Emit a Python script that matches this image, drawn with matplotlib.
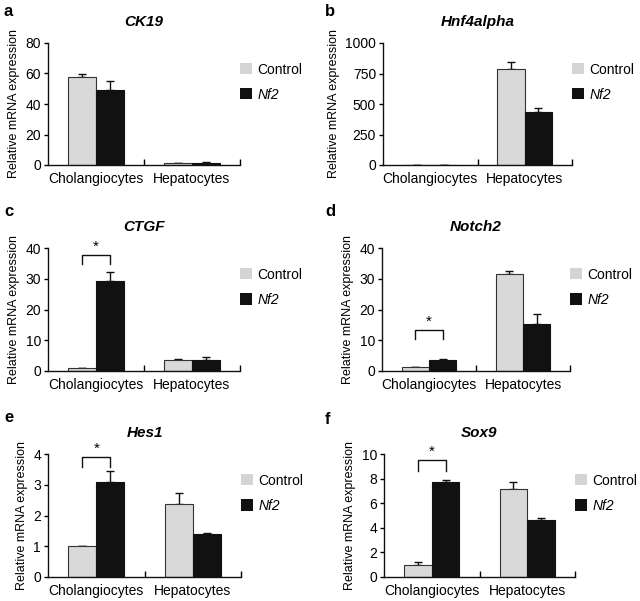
import matplotlib
matplotlib.use("Agg")
from matplotlib import pyplot as plt
import numpy as np

plt.rcParams["font.family"] = ["Liberation Sans", "DejaVu Sans"]

# ---- Data ----
groups = ["Cholangiocytes", "Hepatocytes"]
genes = ["CK19", "Hnf4alpha", "CTGF", "Notch2", "Hes1", "Sox9"]
letters = ["a", "b", "c", "d", "e", "f"]

ctrl_mean = [[57.5, 1.0], [0.5, 785], [1.0, 3.5], [1.2, 31.7], [1.0, 2.38], [0.95, 7.15]]
ctrl_err = [[2.0, 0.2], [0.0, 58], [0.1, 0.3], [0.1, 0.9], [0.02, 0.35], [0.3, 0.57]]
nf2_mean = [[49.0, 1.5], [0.5, 436], [29.2, 3.7], [3.7, 15.2], [3.08, 1.39], [7.74, 4.67]]
nf2_err = [[6.0, 0.5], [0.0, 28], [3.1, 1.0], [0.3, 3.2], [0.36, 0.04], [0.14, 0.11]]

y_max = [80, 1000, 40, 40, 4, 10]
y_step = [20, 250, 10, 10, 1, 2]

# significance bracket: (top, leg bottom) on the cholangiocyte pair, None if absent
brackets = [None, None, (37.6, 34.9), (13.3, 10.3), (3.9, 3.57), (9.5, 8.64)]

# ---- Layout in pixels (left, right, top, bottom) ----
W, H = 640, 601
boxes = [(48, 240, 43, 165), (383, 572, 43, 165),
         (48, 240, 248, 371), (382, 570, 248, 371),
         (48, 241, 454, 577), (384, 575, 454, 577)]
letter_pos = [(4, 12), (325, 12), (4, 212), (325, 212), (4, 418), (325, 419)]

fig = plt.figure(figsize=(W / 100, H / 100), dpi=100)

bar_w = 0.29
centers = np.array([0.5, 1.5])

for k in range(6):
  l, r, t, b = boxes[k]
  ax = fig.add_axes([l / W, 1 - b / H, (r - l) / W, (b - t) / H])

  ax.bar(centers - bar_w / 2, ctrl_mean[k], bar_w, color="#d9d9d9",
         edgecolor="#333333", linewidth=0.8, zorder=2)
  ax.bar(centers + bar_w / 2, nf2_mean[k], bar_w, color="#111111",
         edgecolor="#111111", linewidth=0.8, zorder=2)

  ax.errorbar(centers - bar_w / 2, ctrl_mean[k],
              yerr=[np.zeros(2), ctrl_err[k]], fmt="none", ecolor="#111111",
              elinewidth=1.0, capsize=3.2, capthick=1.0, zorder=1)
  ax.errorbar(centers + bar_w / 2, nf2_mean[k],
              yerr=[np.zeros(2), nf2_err[k]], fmt="none", ecolor="#111111",
              elinewidth=1.0, capsize=3.2, capthick=1.0, zorder=1)

  if brackets[k] is not None:
    top, leg = brackets[k]
    x0 = centers[0] - bar_w / 2
    x1 = centers[0] + bar_w / 2
    ax.plot([x0, x0, x1, x1], [leg, top, top, leg], color="#111111",
            linewidth=1.0, clip_on=False)
    ax.text((x0 + x1) / 2, top + y_max[k] * 0.01, "*", ha="center",
            va="bottom", fontsize=11, clip_on=False)

  ax.set_xlim(0, 2)
  ax.set_ylim(0, y_max[k])
  ax.set_yticks(np.arange(0, y_max[k] + y_step[k] / 2, y_step[k]))
  ax.set_xticks(centers)
  ax.set_xticklabels(groups)
  ax.set_xticks([1.0, 2.0], minor=True)
  ax.tick_params(axis="x", which="major", length=0, pad=5, labelsize=10)
  ax.tick_params(axis="x", which="minor", length=4, direction="in", width=1.0)
  ax.tick_params(axis="y", length=3, width=1.0, pad=2, labelsize=10)

  for s in ["top", "right"]:
    ax.spines[s].set_visible(False)
  for s in ["left", "bottom"]:
    ax.spines[s].set_linewidth(1.0)
    ax.spines[s].set_color("#111111")

  ax.set_ylabel("Relative mRNA expression", fontsize=9, labelpad=4)
  ax.set_title(genes[k], fontsize=11, fontweight="bold", fontstyle="italic", pad=12)

  handles = [plt.Rectangle((0, 0), 1, 1, facecolor="#d4d4d4", edgecolor="none"),
             plt.Rectangle((0, 0), 1, 1, facecolor="#111111", edgecolor="none")]
  leg = ax.legend(handles, ["Control", "Nf2"], loc="upper left",
                  bbox_to_anchor=(1.0, 0.84), frameon=False,
                  fontsize=10, handlelength=0.86, handleheight=0.86,
                  handletextpad=0.4, labelspacing=0.8, borderpad=0,
                  borderaxespad=0)
  leg.get_texts()[1].set_fontstyle("italic")

  lx, ly = letter_pos[k]
  fig.text(lx / W, 1 - ly / H, letters[k], fontsize=12, fontweight="bold",
           ha="left", va="center")

fig.savefig("out.png", dpi=100)
